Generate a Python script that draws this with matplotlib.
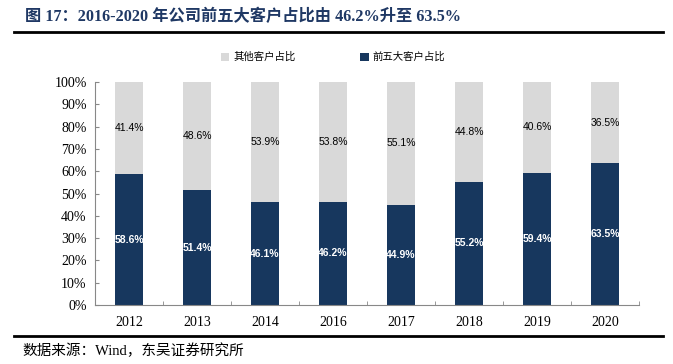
import matplotlib
matplotlib.use('Agg')
import matplotlib.pyplot as plt
import numpy as np
from matplotlib.lines import Line2D

years = ['2012', '2013', '2014', '2016', '2017', '2018', '2019', '2020']
top5_share = [58.6, 51.4, 46.1, 46.2, 44.9, 55.2, 59.4, 63.5]
other_share = [41.4, 48.6, 53.9, 53.8, 55.1, 44.8, 40.6, 36.5]

NAVY = '#17375E'
GREY = '#D9D9D9'
CJK = ['Noto Sans CJK SC', 'DejaVu Sans']
SERIF = ['Liberation Serif', 'Noto Sans CJK SC']

fig = plt.figure(figsize=(6.73, 3.64), dpi=100)
ax = fig.add_axes([0.1412, 0.1621, 0.8083, 0.6126])

x = np.arange(len(years))
w = 0.42
ax.bar(x, top5_share, width=w, color=NAVY, label='前五大客户占比', zorder=2)
ax.bar(x, other_share, width=w, bottom=top5_share, color=GREY, label='其他客户占比', zorder=2)

# 数据标签
for i in range(len(years)):
    ax.text(x[i], top5_share[i] / 2, f'{top5_share[i]}%', ha='center', va='center',
            color='white', fontsize=7.5, family='Liberation Sans', fontweight='semibold')
    ax.text(x[i], top5_share[i] + other_share[i] / 2, f'{other_share[i]}%', ha='center',
            va='center', color='#000000', fontsize=7.5, family='Liberation Sans')

ax.set_xlim(-0.5, len(years) - 0.5)
ax.set_ylim(0, 100)
ax.set_yticks(np.arange(0, 101, 10))
ax.set_yticklabels([f'{v}%' for v in range(0, 101, 10)], family=SERIF, fontsize=10)
ax.set_xticks(x)
ax.set_xticklabels(years, family=SERIF, fontsize=10)
ax.set_xticks(np.arange(-0.5, len(years), 1), minor=True)
ax.tick_params(axis='x', which='major', length=0, pad=8)
ax.tick_params(axis='x', which='minor', direction='in', length=3, color='#888888')
ax.tick_params(axis='y', direction='in', length=3, color='#888888', pad=6)

for s in ['top', 'right']:
    ax.spines[s].set_visible(False)
for s in ['left', 'bottom']:
    ax.spines[s].set_color('#888888')
    ax.spines[s].set_linewidth(0.8)

# 图例
h, l = ax.get_legend_handles_labels()
leg = fig.legend(h[::-1], l[::-1], loc='center', bbox_to_anchor=(0.495, 0.843), ncol=2,
                 frameon=False, prop={'family': CJK, 'size': 7.5}, handlelength=0.8,
                 handleheight=0.8, handletextpad=0.4, columnspacing=6.2)

# 标题与分隔线
fig.text(0.037, 0.953, '图 17：2016-2020 年公司前五大客户占比由 46.2%升至 63.5%',
         family=SERIF, fontsize=11.7, fontweight='bold', color='#1F3864', va='center')
fig.add_artist(Line2D([0.021, 0.985], [0.912, 0.912], color='black', linewidth=2))
fig.add_artist(Line2D([0.021, 0.985], [0.077, 0.077], color='black', linewidth=2))
fig.text(0.034, 0.036, '数据来源：Wind，东吴证券研究所', family=SERIF, fontsize=10.5, va='center')

plt.savefig('out.png', dpi=100)
plt.close()
